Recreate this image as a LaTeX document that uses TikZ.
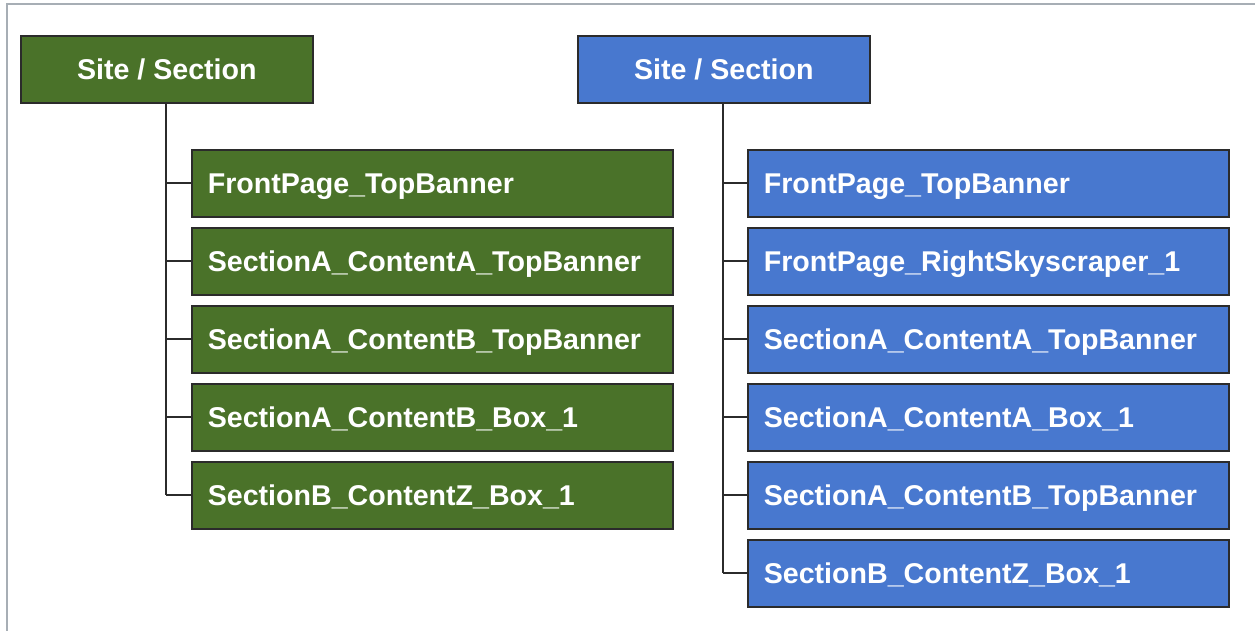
\documentclass[tikz,border=0pt]{standalone}
\usepackage{fontspec}
\setmainfont{Liberation Sans}
\usetikzlibrary{positioning}

\definecolor{leafgreen}{HTML}{4A7229}
\definecolor{leafblue}{HTML}{4878CF}
\definecolor{framegray}{HTML}{A7AEB5}
\definecolor{edgegray}{HTML}{2B2B2B}

\tikzset{
  rootbox/.style={draw=edgegray, line width=1.6pt, anchor=north west,
    minimum width=292pt, minimum height=67pt, inner sep=0pt, text depth=0pt,
    text=white, font=\fontsize{28.6}{32}\selectfont\bfseries},
  leafbox/.style={draw=edgegray, line width=1.6pt, anchor=north west,
    text width=449pt, minimum height=67pt, inner xsep=16pt, inner ysep=0pt,
    text depth=0pt, align=left, text=white, font=\fontsize{28.6}{32}\selectfont\bfseries},
  branch/.style={draw=edgegray, line width=1.8pt}
}

\begin{document}
\begin{tikzpicture}[x=1pt, y=-1pt]
  \useasboundingbox (0,0) rectangle (1255,631);
  \draw[framegray, line width=2pt] (6.5,631) -- (6.5,4) -- (1255,4);

  % left tree
  \node[rootbox, fill=leafgreen] (gr) at (20,35) {Site / Section};
  \coordinate (gt) at (166,102);
  \foreach \name [count=\i] in {FrontPage\_TopBanner, SectionA\_ContentA\_TopBanner,
      SectionA\_ContentB\_TopBanner, SectionA\_ContentB\_Box\_1, SectionB\_ContentZ\_Box\_1}{
    \node[leafbox, fill=leafgreen] (g\i) at (191,{149+78*(\i-1)}) {\name};
    \coordinate (gj\i) at (gt |- g\i.west);
    \draw[branch] (gj\i) -- (g\i.west);
  }
  \draw[branch] (gt) -- (gj5);

  % right tree
  \node[rootbox, fill=leafblue] (br) at (577,35) {Site / Section};
  \coordinate (bt) at (723,102);
  \foreach \name [count=\i] in {FrontPage\_TopBanner, FrontPage\_RightSkyscraper\_1,
      SectionA\_ContentA\_TopBanner, SectionA\_ContentA\_Box\_1,
      SectionA\_ContentB\_TopBanner, SectionB\_ContentZ\_Box\_1}{
    \node[leafbox, fill=leafblue] (b\i) at (747,{149+78*(\i-1)}) {\name};
    \coordinate (bj\i) at (bt |- b\i.west);
    \draw[branch] (bj\i) -- (b\i.west);
  }
  \draw[branch] (bt) -- (bj6);
\end{tikzpicture}
\end{document}
